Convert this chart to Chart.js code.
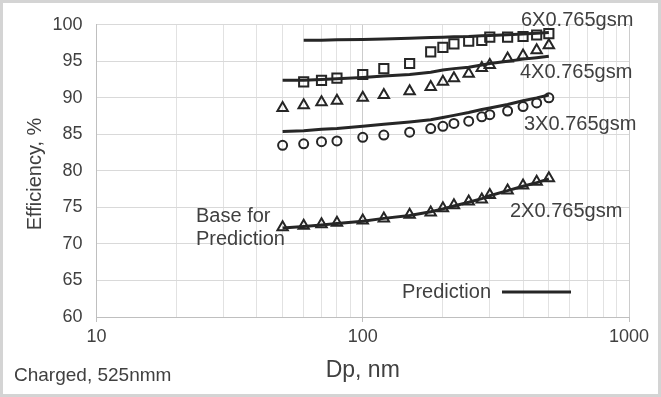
<!DOCTYPE html>
<html>
<head>
<meta charset="utf-8">
<script src="https://cdn.jsdelivr.net/npm/chart.js@4"></script>
<style>
  html, body { margin: 0; padding: 0; background: #fff; }
  #wrap { width: 661px; height: 397px; position: relative; }
</style>
</head>
<body>
<div id="wrap"><canvas id="chart" width="661" height="397"></canvas></div>
<script>
// particle diameters, nm
const dp = [50, 60, 70, 80, 100, 120, 150, 180, 200, 220, 250, 280, 300, 350, 400, 450, 500];
const dp6 = [60, 70, 80, 100, 120, 150, 180, 200, 220, 250, 280, 300, 350, 400, 450, 500];

// measured efficiencies, %
const data6x = [92.2, 92.4, 92.7, 93.2, 94.0, 94.7, 96.3, 96.9, 97.4, 97.75, 97.85, 98.3, 98.3, 98.4, 98.6, 98.8];
const data4x = [88.6, 89.0, 89.4, 89.6, 90.0, 90.4, 90.9, 91.5, 92.2, 92.7, 93.3, 94.1, 94.5, 95.4, 95.8, 96.5, 97.2];
const data3x = [83.5, 83.7, 84.0, 84.1, 84.6, 84.9, 85.3, 85.8, 86.1, 86.5, 86.8, 87.4, 87.7, 88.2, 88.8, 89.3, 90.0];
const data2x = [72.3, 72.5, 72.7, 72.9, 73.2, 73.5, 74.0, 74.3, 74.9, 75.3, 75.8, 76.1, 76.7, 77.3, 78.0, 78.5, 79.0];

// predictions, %
const pred6x = [97.9, 97.9, 97.95, 98.0, 98.05, 98.15, 98.25, 98.3, 98.35, 98.4, 98.5, 98.55, 98.65, 98.75, 98.85, 98.95];
const pred4x = [92.4, 92.4, 92.5, 92.6, 92.8, 93.0, 93.2, 93.5, 93.8, 94.0, 94.2, 94.5, 94.7, 95.0, 95.3, 95.5, 95.7];
const pred3x = [85.4, 85.5, 85.7, 85.8, 86.1, 86.4, 86.7, 87.0, 87.3, 87.6, 88.0, 88.4, 88.6, 89.1, 89.6, 90.0, 90.4];
const pred2x = [72.2, 72.4, 72.6, 72.8, 73.1, 73.5, 73.9, 74.4, 74.8, 75.2, 75.7, 76.2, 76.6, 77.3, 77.9, 78.4, 78.9];

// axis ticks
const xTicks = [10, 20, 30, 40, 50, 60, 70, 80, 90, 100, 200, 300, 400, 500, 600, 700, 800, 900, 1000];
const xLabels = [10, 100, 1000];

const FONT = 'Liberation Sans, Arial, sans-serif';
const TEXT = '#404040';
const INK = '#262626';

function pts(xs, ys) {
    return xs.map((x, i) => ({ x: x, y: ys[i] }));
}

function markers(xs, ys, style, r) {
    return {
        data: pts(xs, ys),
        showLine: false,
        pointStyle: style,
        pointRadius: r,
        pointBorderWidth: 2,
        pointBorderColor: INK,
        pointBackgroundColor: 'rgba(0,0,0,0)'
    };
}

function line(xs, ys) {
    return {
        data: pts(xs, ys),
        showLine: true,
        borderColor: INK,
        borderWidth: 3,
        pointRadius: 0,
        tension: 0
    };
}

// titles, series labels and the legend
const textPlugin = {
    id: 'texts',
    beforeDraw(chart) {
        const ctx = chart.ctx;
        ctx.save();
        ctx.fillStyle = '#fff';
        ctx.fillRect(0, 0, chart.width, chart.height);
        ctx.restore();
    },
    afterDraw(chart) {
        const ctx = chart.ctx;
        const area = chart.chartArea;
        ctx.save();
        ctx.fillStyle = TEXT;
        ctx.textBaseline = 'middle';

        ctx.font = '20px ' + FONT;
        ctx.textAlign = 'left';
        ctx.fillText('6X0.765gsm', 521, 20);
        ctx.fillText('4X0.765gsm', 520, 72);
        ctx.fillText('3X0.765gsm', 524, 124);
        ctx.fillText('2X0.765gsm', 510, 211);
        ctx.fillText('Base for', 196, 216);
        ctx.fillText('Prediction', 196, 239);

        // legend
        ctx.textAlign = 'right';
        ctx.fillText('Prediction', 491, 292);
        ctx.strokeStyle = INK;
        ctx.lineWidth = 3;
        ctx.beginPath();
        ctx.moveTo(502, 292);
        ctx.lineTo(571, 292);
        ctx.stroke();

        // axis titles
        ctx.textAlign = 'center';
        ctx.font = '23px ' + FONT;
        ctx.fillText('Dp, nm', (area.left + area.right) / 2, 371);
        ctx.save();
        ctx.translate(35, 174);
        ctx.rotate(-Math.PI / 2);
        ctx.font = '20px ' + FONT;
        ctx.fillText('Efficiency, %', 0, 0);
        ctx.restore();

        ctx.textAlign = 'left';
        ctx.font = '19px ' + FONT;
        ctx.fillText('Charged, 525nmm', 14, 376);

        // outer frame
        ctx.strokeStyle = '#d4d4d4';
        ctx.lineWidth = 3;
        ctx.strokeRect(1.5, 1.5, chart.width - 3, chart.height - 3);
        ctx.restore();
    }
};

const ctx = document.getElementById('chart').getContext('2d');
new Chart(ctx, {
    type: 'scatter',
    data: {
        datasets: [
            markers(dp6, data6x, 'rect', 6.5),
            markers(dp, data4x, 'triangle', 6),
            markers(dp, data3x, 'circle', 4.5),
            markers(dp, data2x, 'triangle', 6),
            line(dp6, pred6x),
            line(dp, pred4x),
            line(dp, pred3x),
            line(dp, pred2x)
        ]
    },
    options: {
        responsive: false,
        animation: false,
        layout: { padding: { left: 0, right: 32, top: 20.5, bottom: 0 } },
        plugins: {
            legend: { display: false },
            tooltip: { enabled: false }
        },
        scales: {
            x: {
                type: 'logarithmic',
                min: 10,
                max: 1000,
                afterBuildTicks: function(axis) {
                    axis.ticks = xTicks.map(v => ({ value: v }));
                },
                afterFit: function(s) { s.height = 80; },
                ticks: {
                    autoSkip: false,
                    maxRotation: 0,
                    padding: 4,
                    color: TEXT,
                    font: { family: FONT, size: 18 },
                    callback: function(value) {
                        return xLabels.includes(value) ? String(value) : '';
                    }
                },
                grid: {
                    color: c => (c.tick && xLabels.includes(c.tick.value)) ? '#cccccc' : '#e2e2e2',
                    tickColor: c => (c.tick && xLabels.includes(c.tick.value)) ? '#bfbfbf' : 'rgba(0,0,0,0)',
                    tickLength: 5
                },
                border: { color: '#bfbfbf' }
            },
            y: {
                min: 60,
                max: 100,
                afterFit: function(s) { s.width = 96.5; },
                ticks: {
                    stepSize: 5,
                    padding: 14,
                    color: TEXT,
                    font: { family: FONT, size: 18 }
                },
                grid: { color: '#d9d9d9', drawTicks: false },
                border: { color: '#bfbfbf' }
            }
        }
    },
    plugins: [textPlugin]
});
</script>
</body>
</html>
